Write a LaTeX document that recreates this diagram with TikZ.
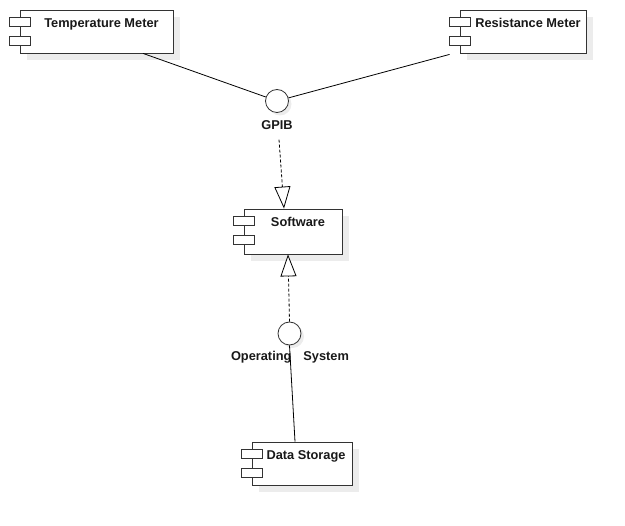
\documentclass[tikz,border=0pt]{standalone}
\usepackage{fontspec}
\setmainfont{Liberation Sans}
\usetikzlibrary{positioning, shadows, arrows.meta}
\definecolor{BoxShadow}{RGB}{236,236,236}
\definecolor{LineGray}{RGB}{51,51,51}

\tikzset{
  component/.style={draw=LineGray, fill=white, line width=0.8pt, minimum width=#1,
    minimum height=43pt, inner sep=0pt,
    drop shadow={shadow xshift=7pt, shadow yshift=-7pt, fill=BoxShadow, opacity=1}},
  iface/.style={circle, draw=LineGray, fill=white, line width=0.8pt, minimum size=23pt,
    inner sep=0pt,
    drop shadow={shadow xshift=3pt, shadow yshift=-3pt, fill=BoxShadow, opacity=1}},
  tag/.style={font=\fontsize{12.8}{15}\selectfont\bfseries, text=black!90},
  realize/.style={line width=0.8pt, dash pattern=on 3pt off 2pt,
    -{Triangle[open, length=22pt, width=16pt, fill=white]}},
  wire/.style={line width=0.8pt}
}

% the two small boxes on the left edge of a component
\newcommand{\compicons}[1]{%
  \draw[LineGray, fill=white, line width=0.8pt] ([xshift=-10.5pt,yshift=-8pt]#1.north west) rectangle ++(21,9);
  \draw[LineGray, fill=white, line width=0.8pt] ([xshift=-10.5pt,yshift=-27pt]#1.north west) rectangle ++(21,9);
}

\begin{document}
\begin{tikzpicture}[x=1pt, y=-1pt]
  \useasboundingbox (0,0) rectangle (625,526);

  % Components
  \node[component=153pt, label={[tag, anchor=north, xshift=5pt, yshift=-5.5pt]north:Temperature Meter}] (temp) at (96.5,31.5) {};
  \node[component=126pt, label={[tag, anchor=north, xshift=5pt, yshift=-5.5pt]north:Resistance Meter}] (res) at (523,31.5) {};
  \node[component=98pt, minimum height=45pt, label={[tag, anchor=north, xshift=5pt, yshift=-5.5pt]north:Software}] (soft) at (293,231.5) {};
  \node[component=100pt, label={[tag, anchor=north, xshift=4pt, yshift=-5.5pt]north:Data Storage}] (data) at (302,463.5) {};
  \compicons{temp}
  \compicons{res}
  \compicons{soft}
  \compicons{data}

  % Interfaces
  \node[iface] (gpib) at (277,101) {};
  \node[tag] (gpiblabel) at (277,125.5) {GPIB};
  \node[iface] (os) at (289.5,333.5) {};
  \node[tag] (oslabel) at (290,357.5) {Operating\hspace{12pt}System};

  % Connectors
  \draw[wire] ([xshift=46.5pt]temp.south) -- (gpib);
  \draw[wire] ([xshift=-10pt,yshift=-1pt]res.south west) -- (gpib);
  \coordinate (gpibtail) at ([xshift=2pt,yshift=-6pt]gpiblabel.south);
  \draw[realize] (gpibtail) -- ([xshift=-9pt]soft.north);
  \draw[realize] (os.north) -- ([xshift=-5pt]soft.south);
  \draw[wire] (os.south) -- ([xshift=-7pt]data.north);
\end{tikzpicture}
\end{document}
